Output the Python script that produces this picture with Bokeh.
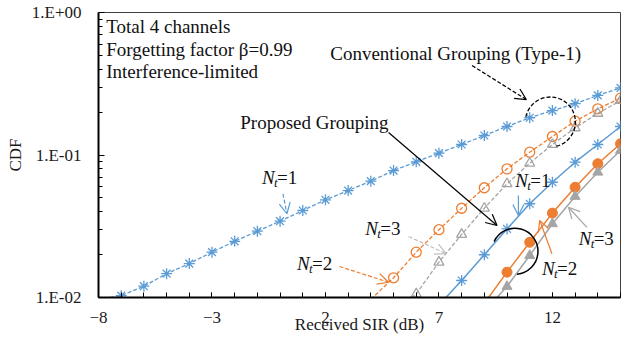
from bokeh.plotting import figure
from bokeh.models import FixedTicker, Label, Arrow, OpenHead, Range1d
from bokeh.embed import file_html
from bokeh.resources import INLINE

# ---------------- data ----------------
sir_conv1 = [-8, -7, -6, -5, -4, -3, -2, -1, 0, 1, 2, 3, 4, 5, 6, 7, 8, 9, 10, 11, 12, 13, 14, 15]
cdf_conv1 = [0.0097, 0.0103, 0.0120, 0.0147, 0.0173, 0.0208, 0.0248, 0.0292, 0.0343, 0.0408,
             0.0485, 0.0563, 0.0655, 0.0778, 0.0896, 0.103, 0.1185, 0.137, 0.1585, 0.1825,
             0.205, 0.229, 0.262, 0.296]

sir_conv2 = [4, 5, 6, 7, 8, 9, 10, 11, 12, 13, 14, 15]
cdf_conv2 = [0.0097, 0.01375, 0.0208, 0.0299, 0.0423, 0.0589, 0.080, 0.1046, 0.1348, 0.1727, 0.211, 0.2505]

sir_conv3 = [5, 6, 7, 8, 9, 10, 11, 12, 13, 14, 15]
cdf_conv3 = [0.0077, 0.0106, 0.0177, 0.0277, 0.0423, 0.0628, 0.0875, 0.1185, 0.155, 0.196, 0.241]

sir_prop1 = [7, 8, 9, 10, 11, 12, 13, 14, 15]
cdf_prop1 = [0.00885, 0.01316, 0.01995, 0.0303, 0.0455, 0.0644, 0.089, 0.1185, 0.1585]

sir_prop2 = [9, 10, 11, 12, 13, 14, 15]
cdf_prop2 = [0.0091, 0.01506, 0.0244, 0.0391, 0.0594, 0.0868, 0.1199]

sir_prop3 = [9, 10, 11, 12, 13, 14, 15]
cdf_prop3 = [0.0080, 0.01195, 0.0197, 0.0329, 0.0512, 0.0757, 0.1076]

x_ticks = [-8, -3, 2, 7, 12]
x_minor = list(range(-8, 16))
y_ticks = [0.01, 0.1, 1.0]
y_tick_labels = {0.01: "1.E-02", 0.1: "1.E-01", 1.0: "1.E+00"}
y_minor = [m * d for d in (0.01, 0.1) for m in range(2, 10)]

BLUE = "#5B9BD5"
ORANGE = "#ED7D31"
GRAY = "#A5A5A5"
FONT = "Liberation Serif"

p = figure(width=625, height=338, y_axis_type="log", output_backend="svg",
           toolbar_location=None, x_range=Range1d(-8, 15), y_range=Range1d(0.01, 1.0))
p.min_border_left = 98
p.min_border_right = 5
p.min_border_top = 12
p.min_border_bottom = 41
p.grid.visible = False
p.outline_line_color = "#404040"
p.outline_line_width = 1
p.background_fill_color = "white"
p.border_fill_color = "white"

p.xaxis.ticker = FixedTicker(ticks=x_ticks, minor_ticks=x_minor)
p.yaxis.ticker = FixedTicker(ticks=y_ticks, minor_ticks=y_minor)
p.yaxis.major_label_overrides = y_tick_labels
for ax in (p.xaxis[0], p.yaxis[0]):
    ax.axis_line_width = 2
    ax.axis_line_color = "black"
    ax.major_tick_line_color = "black"
    ax.minor_tick_line_color = "black"
    ax.major_tick_out = 0
    ax.minor_tick_out = 0
    ax.major_label_text_font = FONT
    ax.major_label_text_font_size = "17px"
    ax.major_label_text_color = "#1a1a1a"
    ax.axis_label_text_font = FONT
    ax.axis_label_text_font_size = "17px"
    ax.axis_label_text_font_style = "normal"
    ax.axis_label_text_color = "#1a1a1a"
p.xaxis.major_tick_in = 5
p.xaxis.minor_tick_in = 5
p.yaxis.major_tick_in = 6
p.yaxis.minor_tick_in = 4
p.xaxis.major_label_standoff = 14
p.yaxis.major_label_standoff = 17
p.xaxis.axis_label = "Received SIR (dB)"
p.yaxis.axis_label = "CDF"
p.xaxis.axis_label_standoff = -11
p.yaxis.axis_label_standoff = 4


def visible(xs, ys):
    pts = [(a, b) for a, b in zip(xs, ys) if b >= 0.01]
    return [a for a, _ in pts], [b for _, b in pts]


# conventional (dashed)
p.line(sir_conv1, cdf_conv1, line_color=BLUE, line_width=1.3, line_dash="4 2")
mx, my = visible(sir_conv1, cdf_conv1)
p.scatter(mx, my, marker="asterisk", size=11, line_color=BLUE, line_width=1.3)

p.line(sir_conv2, cdf_conv2, line_color=ORANGE, line_width=1.3, line_dash="4 2")
mx, my = visible(sir_conv2, cdf_conv2)
p.scatter(mx, my, marker="circle", size=10, line_color=ORANGE, fill_color=None, line_width=1.3)

p.line(sir_conv3, cdf_conv3, line_color=GRAY, line_width=1.3, line_dash="4 2")
mx, my = visible(sir_conv3, cdf_conv3)
p.scatter(mx, my, marker="triangle", size=10, line_color=GRAY, fill_color=None, line_width=1.3)

# proposed (solid)
p.line(sir_prop1, cdf_prop1, line_color=BLUE, line_width=1.5)
mx, my = visible(sir_prop1, cdf_prop1)
p.scatter(mx, my, marker="asterisk", size=11, line_color=BLUE, line_width=1.3)

p.line(sir_prop2, cdf_prop2, line_color=ORANGE, line_width=1.5)
mx, my = visible(sir_prop2, cdf_prop2)
p.scatter(mx, my, marker="circle", size=10, line_color=ORANGE, fill_color=ORANGE)

p.line(sir_prop3, cdf_prop3, line_color=GRAY, line_width=1.5)
mx, my = visible(sir_prop3, cdf_prop3)
p.scatter(mx, my, marker="triangle", size=10, line_color=GRAY, fill_color=GRAY)

# ---------------- annotations ----------------
def txt(x, y, s, size="19px", style="normal", xo=0, yo=0):
    p.add_layout(Label(x=x, y=y, text=s, text_font=FONT, text_font_size=size,
                       text_font_style=style, text_baseline="middle", text_align="left",
                       text_color="#111111", x_offset=xo, y_offset=yo))


txt(-7.66, 0.797, "Total 4 channels")
txt(-7.66, 0.55, "Forgetting factor \u03b2=0.99")
txt(-7.66, 0.3855, "Interference-limited")
txt(2.211, 0.5155, "Conventional Grouping (Type-1)")
txt(-1.755, 0.169, "Proposed Grouping")


def nt_label(x, y, num):
    txt(x, y, "N", style="italic")
    txt(x, y, "t", size="13px", style="italic", xo=12, yo=-5)
    txt(x, y, "=" + num, xo=15)


nt_label(-0.799, 0.0699, "1")
nt_label(3.754, 0.0305, "3")
nt_label(0.744, 0.01724, "2")
nt_label(10.365, 0.0662, "1")
nt_label(13.155, 0.0258, "3")
nt_label(11.542, 0.01589, "2")


def arrow(x0, y0, x1, y1, color, dash="solid", width=1.2):
    p.add_layout(Arrow(end=OpenHead(size=11, line_color=color, line_width=width),
                       x_start=x0, y_start=y0, x_end=x1, y_end=y1,
                       line_color=color, line_width=width, line_dash=dash))


arrow(8.457, 0.4247, 10.85, 0.245, "black", dash="4 2")
arrow(4.78, 0.1438, 9.56, 0.032, "black")
arrow(0.127, 0.0534, 0.303, 0.0387, BLUE, dash="4 2")
arrow(5.66, 0.0268, 7.32, 0.0203, "#BFBFBF", dash="4 2")
arrow(2.62, 0.0165, 4.78, 0.0128, ORANGE, dash="4 2")
arrow(10.50, 0.052, 10.50, 0.0376, BLUE)
arrow(13.52, 0.0311, 12.71, 0.043, GRAY)
arrow(11.98, 0.0203, 11.44, 0.0348, ORANGE)

p.arc(x=[11.91], y=[0.1705], radius=25, radius_units="screen", start_angle=-76,
      end_angle=168, start_angle_units="deg", end_angle_units="deg",
      line_color="black", line_width=1.3, line_dash="4 2")
p.arc(x=[10.35], y=[0.0211], radius=23, radius_units="screen", start_angle=-85,
      end_angle=155, start_angle_units="deg", end_angle_units="deg",
      line_color="black", line_width=1.5)

open("out.html", "w").write(file_html(p, INLINE))
